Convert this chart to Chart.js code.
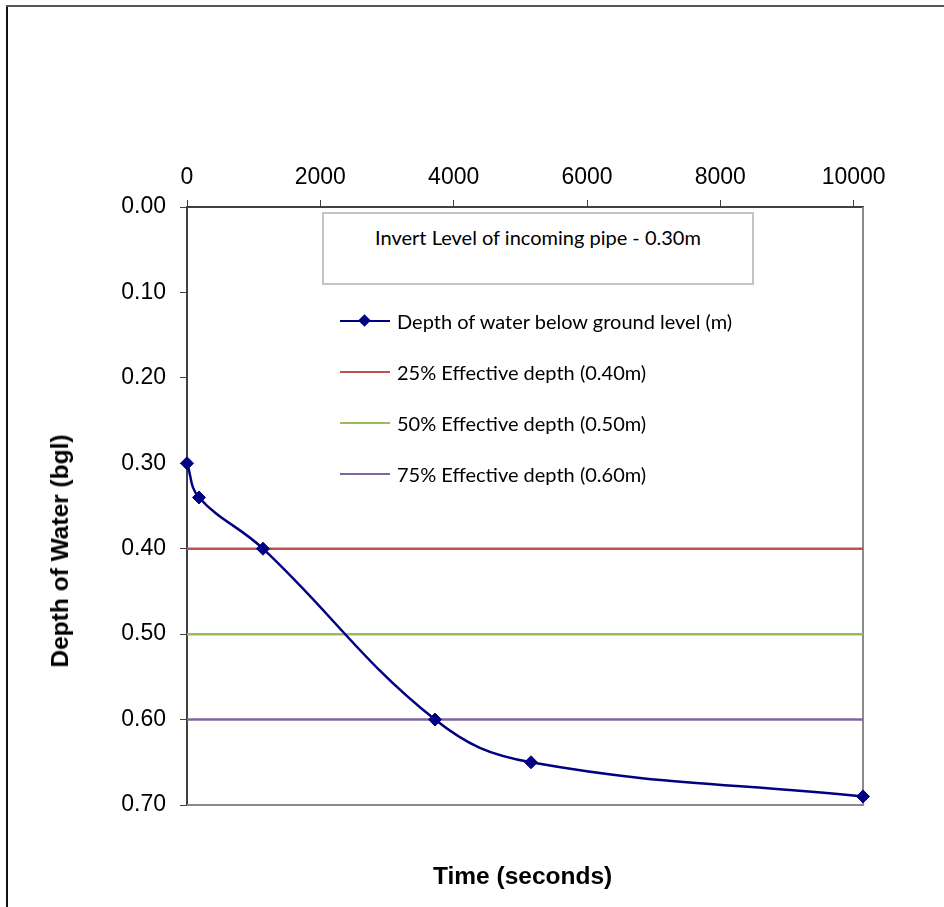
<!DOCTYPE html>
<html>
<head>
<meta charset="utf-8">
<script src="https://cdn.jsdelivr.net/npm/chart.js@4.4.1/dist/chart.umd.min.js"></script>
<style>
  html, body { margin: 0; padding: 0; background: #fff; }
  #wrap { position: relative; width: 944px; height: 907px; overflow: hidden; background: #fff; }
  #c { position: absolute; left: 0; top: 0; }
  #topLine { position: absolute; left: 6px; top: 5px; width: 940px; height: 2px; background: #555; }
  .ov { position: absolute; white-space: nowrap; font-family: Lato, "Open Sans", sans-serif; color: #000; }
  #note { position: absolute; left: 322px; top: 212px; width: 428px; height: 69px;
          border: 2px solid #c4c4c4; background: #fff; }
  #noteText { position: absolute; left: 0; width: 100%; top: 11px; text-align: center; font-size: 20px; line-height: 24px; }
  .leg { position: absolute; left: 340px; height: 24px; }
  .leg .sw { position: absolute; left: 0; top: 11px; width: 50px; height: 2px; }
  .leg .dm { position: absolute; left: 20px; top: 7px; width: 9px; height: 9px; transform: rotate(45deg); }
  .leg .tx { position: absolute; left: 57px; top: 0; font-size: 20px; line-height: 24px; }
  .axt { position: absolute; font-family: "Liberation Sans", Arial, sans-serif; font-weight: bold; font-size: 24.5px; color: #000; white-space: nowrap; }
</style>
</head>
<body>
<div id="wrap">
  <canvas id="c" width="944" height="907"></canvas>
  <div id="topLine"></div>
  <div id="note"><div id="noteText" class="ov"></div></div>
  <div id="legend"></div>
  <div id="xTitle" class="axt"></div>
  <div id="yTitle" class="axt"></div>
</div>
<script>
// ---- data ----
const timeSeconds = [0, 180, 1140, 3720, 5160, 10140];
const depthMetres = [0.30, 0.34, 0.40, 0.60, 0.65, 0.69];
const xTickValues = [0, 2000, 4000, 6000, 8000, 10000];
const yTickValues = [0.0, 0.1, 0.2, 0.3, 0.4, 0.5, 0.6, 0.7];
const xMax = 10140;
const refLevels = [0.40, 0.50, 0.60];
const refLabels = ['25% Effective depth (0.40m)', '50% Effective depth (0.50m)', '75% Effective depth (0.60m)'];
const refColors = ['#C0504D', '#9BBB59', '#8064A2'];
const seriesLabel = 'Depth of water below ground level (m)';
const seriesColor = '#000080';
const noteText = 'Invert Level of incoming pipe - 0.30m';
const xTitleText = 'Time (seconds)';
const yTitleText = 'Depth of Water (bgl)';

// ---- datasets ----
const datasets = [{
  label: seriesLabel,
  data: timeSeconds.map((t, i) => ({ x: t, y: depthMetres[i] })),
  borderColor: seriesColor,
  backgroundColor: seriesColor,
  borderWidth: 2.5,
  pointStyle: 'rectRot',
  pointRadius: 6.5,
  pointBorderWidth: 1,
  pointBorderColor: seriesColor,
  pointBackgroundColor: seriesColor,
  tension: 0.4,
  clip: false,
  order: 0
}];
refLevels.forEach((lv, i) => {
  datasets.push({
    label: refLabels[i],
    data: [{ x: 0, y: lv }, { x: xMax, y: lv }],
    borderColor: refColors[i],
    backgroundColor: refColors[i],
    borderWidth: 2.5,
    pointRadius: 0,
    tension: 0,
    order: 1
  });
});

const borderPlugin = {
  id: 'plotBorder',
  beforeDraw(chart) {
    const ctx = chart.ctx;
    ctx.save();
    ctx.fillStyle = '#fff';
    ctx.fillRect(0, 0, chart.width, chart.height);
    ctx.lineWidth = 2;
    ctx.strokeStyle = '#111';
    ctx.beginPath(); ctx.moveTo(7, 5); ctx.lineTo(7, chart.height); ctx.stroke();
    ctx.restore();
  },
  beforeDatasetsDraw(chart) {
    const a = chart.chartArea, ctx = chart.ctx;
    ctx.save();
    ctx.strokeStyle = '#8a8a8a';
    ctx.lineWidth = 2;
    ctx.beginPath();
    ctx.moveTo(a.right, a.top);
    ctx.lineTo(a.right, a.bottom);
    ctx.lineTo(a.left, a.bottom);
    ctx.stroke();
    ctx.restore();
  }
};

const tickFont = { family: '"Liberation Sans", Arial, sans-serif', size: 23 };

new Chart(document.getElementById('c'), {
  type: 'line',
  data: { datasets },
  plugins: [borderPlugin],
  options: {
    responsive: false,
    animation: false,
    layout: { padding: { left: 0, top: 0, right: 81, bottom: 102 } },
    plugins: { legend: { display: false }, tooltip: { enabled: false } },
    scales: {
      x: {
        type: 'linear', position: 'top', min: 0, max: xMax,
        afterFit(s) { s.height = 207; },
        afterBuildTicks(s) { s.ticks = xTickValues.map(v => ({ value: v })); },
        ticks: { font: tickFont, color: '#000', padding: 9, maxRotation: 0, autoSkip: false,
                 callback: v => String(v) },
        grid: { drawOnChartArea: false, drawTicks: true, tickLength: 7, color: '#404040', lineWidth: 1 },
        border: { color: '#404040', width: 2 }
      },
      y: {
        type: 'linear', position: 'left', min: 0, max: 0.7, reverse: true,
        afterFit(s) { s.width = 187; },
        afterBuildTicks(s) { s.ticks = yTickValues.map(v => ({ value: v })); },
        ticks: { font: tickFont, color: '#000', padding: 14, autoSkip: false,
                 callback: v => Number(v).toFixed(2) },
        grid: { drawOnChartArea: false, drawTicks: true, tickLength: 7, color: '#404040', lineWidth: 1 },
        border: { color: '#404040', width: 2 }
      }
    }
  }
});

// ---- overlay text ----
document.getElementById('noteText').textContent = noteText;
const legend = document.getElementById('legend');
const legTops = [309, 360, 411, 462];
datasets.forEach((d, i) => {
  const row = document.createElement('div');
  row.className = 'leg';
  row.style.top = legTops[i] + 'px';
  const sw = document.createElement('div');
  sw.className = 'sw'; sw.style.background = d.borderColor;
  row.appendChild(sw);
  if (i === 0) {
    const dm = document.createElement('div');
    dm.className = 'dm'; dm.style.background = d.borderColor;
    row.appendChild(dm);
  }
  const tx = document.createElement('div');
  tx.className = 'tx ov'; tx.textContent = d.label;
  row.appendChild(tx);
  legend.appendChild(row);
});
const xt = document.getElementById('xTitle');
xt.textContent = xTitleText;
xt.style.left = '433px'; xt.style.top = '862px';
const yt = document.getElementById('yTitle');
yt.textContent = yTitleText;
yt.style.left = '60px'; yt.style.top = '551px';
yt.style.transform = 'translate(-50%, -50%) rotate(-90deg)';
</script>
</body>
</html>
